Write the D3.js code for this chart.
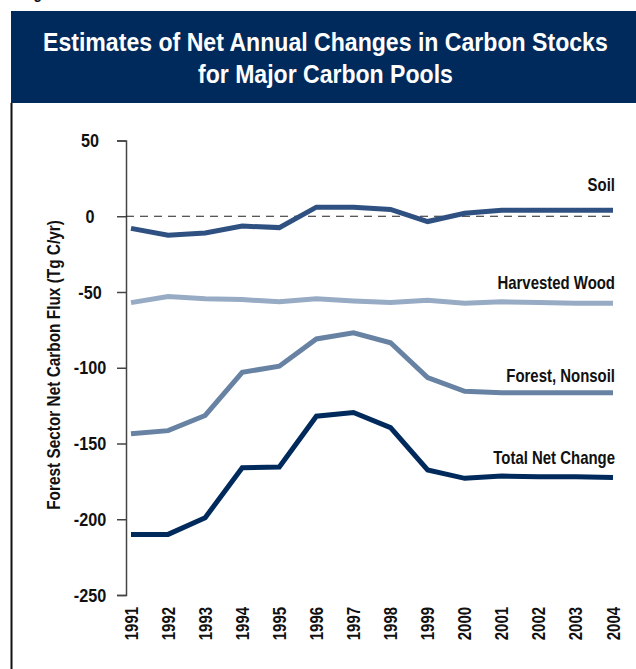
<!DOCTYPE html>
<html>
<head>
<meta charset="utf-8">
<script src="https://cdn.jsdelivr.net/npm/d3@7"></script>
<style>
  html, body { margin: 0; padding: 0; background: #fff; }
  svg { display: block; }
  text { font-family: "Liberation Sans", Arial, sans-serif; font-weight: bold; }
</style>
</head>
<body>
<script>
// Net annual changes in carbon stocks (Tg C/yr), 1991-2004
const years = [1991, 1992, 1993, 1994, 1995, 1996, 1997, 1998, 1999, 2000, 2001, 2002, 2003, 2004];
const soil = [-8, -12.5, -11, -6.5, -7.5, 6, 6, 4.5, -3.5, 2, 4, 4, 4, 4];
const harvestedWood = [-57, -53, -54.5, -55, -56.5, -54.5, -56, -57, -55.5, -57.5, -56.5, -57, -57.5, -57.5];
const forestNonsoil = [-143.5, -141.5, -131.5, -103, -99, -81, -77, -83.5, -106.5, -115.5, -116.5, -116.5, -116.5, -116.5];
const totalNetChange = [-210, -210, -199, -166, -165.5, -132, -129.5, -139.5, -167.5, -173, -171.5, -172, -172, -172.5];
const seriesNames = ["Soil", "Harvested Wood", "Forest, Nonsoil", "Total Net Change"];
const yTicks = [50, 0, -50, -100, -150, -200, -250];
const titleLines = ["Estimates of Net Annual Changes in Carbon Stocks", "for Major Carbon Pools"];
const yAxisTitle = "Forest Sector Net Carbon Flux (Tg C/yr)";

const W = 636, H = 669;
const svg = d3.select("body").append("svg").attr("width", W).attr("height", H);
const FONT = "'Liberation Sans', Arial, sans-serif";

// Place a text at (x, y) squeezed horizontally by f to imitate a condensed face;
// rot rotates it about its anchor first.
function placeCondensed(sel, x, y, f, rot) {
  sel.attr("x", 0).attr("y", 0)
    .attr("transform", `translate(${x},${y})${rot ? ` rotate(${rot})` : ""} scale(${f},1)`);
}

// Figure caption running off the top edge
svg.append("text").attr("font-size", 17).attr("fill", "#111").text("Figure")
  .call(placeCondensed, 21, -1, 0.82);

// Title banner
svg.append("rect").attr("x", 11).attr("y", 11).attr("width", W - 11).attr("height", 92).attr("fill", "#002a5c");
const titleWidths = [565, 255];
const titlePos = [[43, 51], [198, 83]];
svg.selectAll("text.title").data(titleLines).join("text")
  .attr("class", "title").attr("font-size", 26).attr("fill", "#fff")
  .text(d => d)
  .each(function (d, i) {
    const f = titleWidths[i] / this.getComputedTextLength();
    d3.select(this).call(placeCondensed, titlePos[i][0], titlePos[i][1], f);
  });

// Left frame rule
svg.append("line").attr("x1", 11.5).attr("x2", 11.5).attr("y1", 103).attr("y2", H).attr("stroke", "#111").attr("stroke-width", 2);

const x = d3.scalePoint().domain(years).range([131, 613]);
const y = d3.scaleLinear().domain([-250, 50]).range([595, 140.5]);

// Y axis, labels centred in the gutter left of the ticks
const yAxis = svg.append("g").attr("transform", "translate(126,0)")
  .call(d3.axisLeft(y).tickValues(yTicks).tickSize(9).tickFormat(d => String(d)));
yAxis.select(".domain").attr("stroke", "#444").attr("stroke-width", 1.5);
yAxis.selectAll(".tick line").attr("stroke", "#444").attr("stroke-width", 1.5);
yAxis.selectAll(".tick text").attr("font-size", 18).attr("fill", "#111")
  .attr("font-family", FONT).attr("font-weight", "bold")
  .attr("text-anchor", "middle").attr("dy", null)
  .call(placeCondensed, -36, 6, 0.9);

// X axis labels (no axis line)
const xAxis = svg.append("g").attr("transform", "translate(0,607)")
  .call(d3.axisBottom(x).tickSize(0).tickPadding(0));
xAxis.select(".domain").remove();
xAxis.selectAll(".tick text")
  .attr("font-size", 18).attr("fill", "#111")
  .attr("font-family", FONT).attr("font-weight", "bold")
  .attr("text-anchor", "end").attr("dy", null)
  .call(placeCondensed, 6, 0, 0.83, -90);

// Zero reference line
svg.append("line").attr("x1", 126).attr("x2", 613).attr("y1", y(0)).attr("y2", y(0))
  .attr("stroke", "#222").attr("stroke-width", 1.2).attr("stroke-dasharray", "8,6");

// Y axis title
svg.append("text").attr("text-anchor", "middle").attr("font-size", 18).attr("fill", "#111")
  .text(yAxisTitle)
  .each(function () {
    const f = 290 / this.getComputedTextLength();
    d3.select(this).call(placeCondensed, 60, 365, f, -90);
  });

// Series lines
const series = [
  { name: seriesNames[0], values: soil, color: "#2f5181", labelY: 191 },
  { name: seriesNames[1], values: harvestedWood, color: "#98abc5", labelY: 289 },
  { name: seriesNames[2], values: forestNonsoil, color: "#6882a3", labelY: 382 },
  { name: seriesNames[3], values: totalNetChange, color: "#002a5c", labelY: 464 }
];
const line = d3.line().x((d, i) => x(years[i])).y(d => y(d));
svg.selectAll("path.series").data(series).join("path")
  .attr("class", "series")
  .attr("d", d => line(d.values))
  .attr("fill", "none").attr("stroke", d => d.color)
  .attr("stroke-width", 5).attr("stroke-linejoin", "miter");

svg.selectAll("text.slabel").data(series).join("text")
  .attr("class", "slabel")
  .attr("text-anchor", "end").attr("font-size", 18).attr("fill", "#111")
  .text(d => d.name)
  .each(function (d) { d3.select(this).call(placeCondensed, 615, d.labelY, 0.83); });
</script>
</body>
</html>
